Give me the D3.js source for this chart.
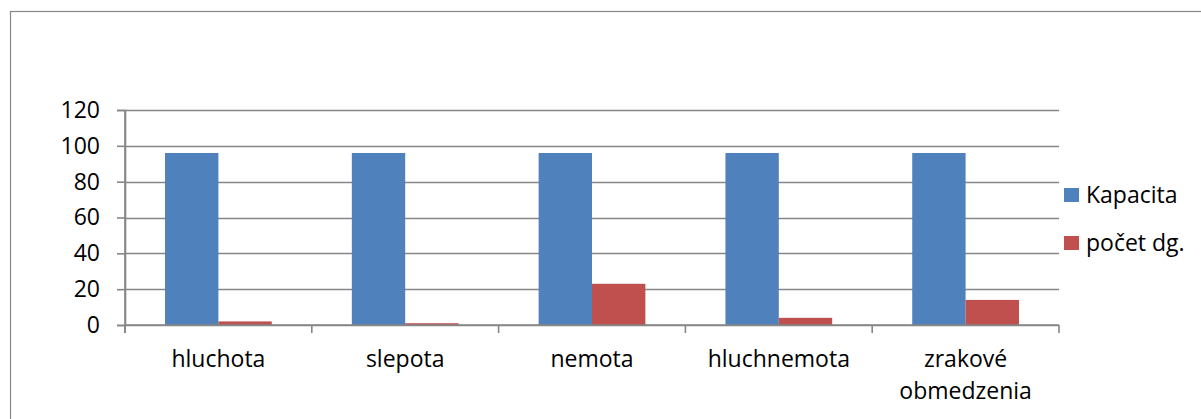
<!DOCTYPE html>
<html>
<head>
<meta charset="utf-8">
<script src="https://cdn.jsdelivr.net/npm/d3@7"></script>
<style>
  html, body { margin: 0; padding: 0; background: #fff; }
  svg { display: block; }
  text { font-family: "Open Sans", "Noto Sans", sans-serif; fill: #000; }
</style>
</head>
<body>
<svg id="chart" width="1201" height="419"></svg>
<script>
const categories = ["hluchota", "slepota", "nemota", "hluchnemota", "zrakové obmedzenia"];
const seriesNames = ["Kapacita", "počet dg."];
const kapacita = [96, 96, 96, 96, 96];
const pocetDg = [2, 1, 23, 4, 14];
const yTicks = [0, 20, 40, 60, 80, 100, 120];
const colors = ["#4F81BD", "#C0504D"];

const svg = d3.select("#chart");
const fontSize = 23;

// outer chart border (extends past right/bottom edges)
svg.append("rect")
  .attr("x", 10.5).attr("y", 11.5)
  .attr("width", 1230).attr("height", 450)
  .attr("fill", "none").attr("stroke", "#878787").attr("stroke-width", 1.2);

const plot = { left: 125, right: 1059, top: 110, bottom: 325 };

const x = d3.scaleBand().domain(categories).range([plot.left, plot.right]).paddingInner(0).paddingOuter(0);
const y = d3.scaleLinear().domain([0, 120]).range([plot.bottom, plot.top]);
const barW = x.bandwidth() / 3.5; // 150% gap width

const lineColor = "#868686";

// gridlines
svg.append("g").selectAll("line").data(yTicks).join("line")
  .attr("x1", plot.left).attr("x2", plot.right)
  .attr("y1", d => Math.round(y(d)) + 0.5).attr("y2", d => Math.round(y(d)) + 0.5)
  .attr("stroke", lineColor).attr("stroke-width", 1.6);

// y axis
const yAxis = d3.axisLeft(y).tickValues(yTicks).tickSize(8).tickPadding(10).tickFormat(d3.format("d"));
const gy = svg.append("g").attr("transform", `translate(${plot.left},0)`).call(yAxis);
gy.select(".domain").attr("stroke", lineColor).attr("stroke-width", 1.6);
gy.selectAll(".tick line").attr("stroke", lineColor).attr("stroke-width", 1.6);
gy.selectAll(".tick text").attr("font-size", fontSize).attr("font-family", "Open Sans").attr("fill", "#000").attr("x", -25);

// bars
const series = [kapacita, pocetDg];
series.forEach((vals, si) => {
  svg.append("g").selectAll("rect").data(categories).join("rect")
    .attr("x", (c) => x(c) + x.bandwidth() / 2 - barW + si * barW)
    .attr("y", (c, i) => y(vals[i]))
    .attr("width", barW)
    .attr("height", (c, i) => y(0) - y(vals[i]))
    .attr("fill", colors[si]);
});

// x axis
const bounds = categories.map(c => x(c)).concat([plot.right]);
svg.append("line")
  .attr("x1", plot.left).attr("x2", plot.right)
  .attr("y1", y(0)).attr("y2", y(0))
  .attr("stroke", lineColor).attr("stroke-width", 1.6);
svg.append("g").selectAll("line").data(bounds).join("line")
  .attr("x1", d => d).attr("x2", d => d)
  .attr("y1", y(0)).attr("y2", y(0) + 8)
  .attr("stroke", lineColor).attr("stroke-width", 1.6);
svg.append("line")
  .attr("x1", plot.left).attr("x2", plot.left)
  .attr("y1", plot.top).attr("y2", y(0) + 8)
  .attr("stroke", lineColor).attr("stroke-width", 1.6);

// category labels
const lab = svg.append("g").selectAll("text").data(categories).join("text")
  .attr("x", c => x(c) + x.bandwidth() / 2)
  .attr("y", 367)
  .attr("text-anchor", "middle")
  .attr("font-size", fontSize);
lab.each(function(c) {
  const words = c.split(" ");
  const t = d3.select(this);
  words.forEach((w, i) => {
    t.append("tspan").attr("x", x(c) + x.bandwidth() / 2).attr("dy", i === 0 ? 0 : 32).text(w);
  });
});

// legend
const legendY = [188, 236];
const lg = svg.append("g");
seriesNames.forEach((name, i) => {
  lg.append("rect").attr("x", 1064).attr("y", legendY[i]).attr("width", 15).attr("height", 14).attr("fill", colors[i]);
  lg.append("text").attr("x", 1086).attr("y", legendY[i] + 15).attr("font-size", fontSize).text(name);
});
</script>
</body>
</html>
